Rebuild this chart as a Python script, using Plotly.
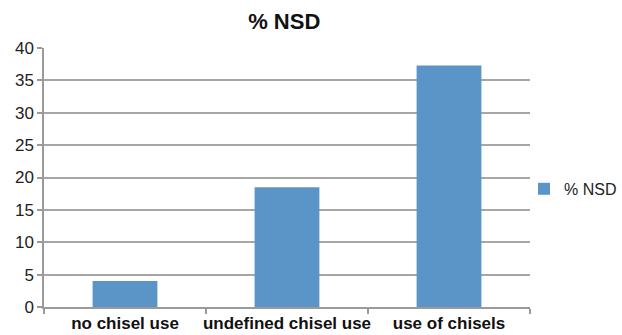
import plotly.graph_objects as go

categories = ["no chisel use", "undefined chisel use", "use of chisels"]
nsd_values = [4.0, 18.5, 37.3]
y_ticks = [0, 5, 10, 15, 20, 25, 30, 35, 40]

FONT = "Liberation Sans, Arial, Helvetica, sans-serif"

fig = go.Figure()
fig.add_trace(go.Bar(
    x=categories,
    y=nsd_values,
    name="% NSD",
    marker=dict(color="#5b95c8", line=dict(width=0)),
    showlegend=True,
))

# Plot area spans 44..530 px; the remaining right strip holds the legend.
fig.update_layout(
    template="none",
    width=622,
    height=335,
    margin=dict(l=44, r=0, t=48, b=28, pad=0),
    paper_bgcolor="white",
    plot_bgcolor="white",
    bargap=0.6,
    font=dict(family=FONT, color="#222222"),
    title=dict(
        text="<b>% NSD</b>",
        xref="container", x=0.457, xanchor="center",
        yref="container", y=0.935, yanchor="middle",
        font=dict(size=22, color="#111111", family=FONT),
    ),
    showlegend=True,
    legend=dict(
        x=1.0, xanchor="right",
        y=0.456, yanchor="middle",
        font=dict(size=16, color="#222222", family=FONT),
        itemwidth=30,
        bgcolor="rgba(0,0,0,0)",
        borderwidth=0,
    ),
    xaxis=dict(
        domain=[0, 486 / 578],
        automargin=False,
        showline=True, linecolor="#9a9a9a", linewidth=1.5,
        ticks="outside", tickson="boundaries", ticklen=5,
        tickcolor="#9a9a9a", tickwidth=1.5,
        tickangle=0,
        tickfont=dict(size=17, color="#111111", family=FONT),
        showgrid=False, zeroline=False,
        tickprefix="<b>", ticksuffix="</b>",
    ),
    yaxis=dict(
        automargin=False,
        range=[0, 40],
        tickvals=y_ticks,
        showline=True, linecolor="#9a9a9a", linewidth=1.5,
        ticks="outside", ticklen=5, tickcolor="#9a9a9a", tickwidth=1.5,
        showgrid=True, gridcolor="#a6a6a6", gridwidth=1.5,
        tickfont=dict(size=17, color="#222222", family=FONT),
        zeroline=False,
    ),
)

fig.write_html("out.html")
